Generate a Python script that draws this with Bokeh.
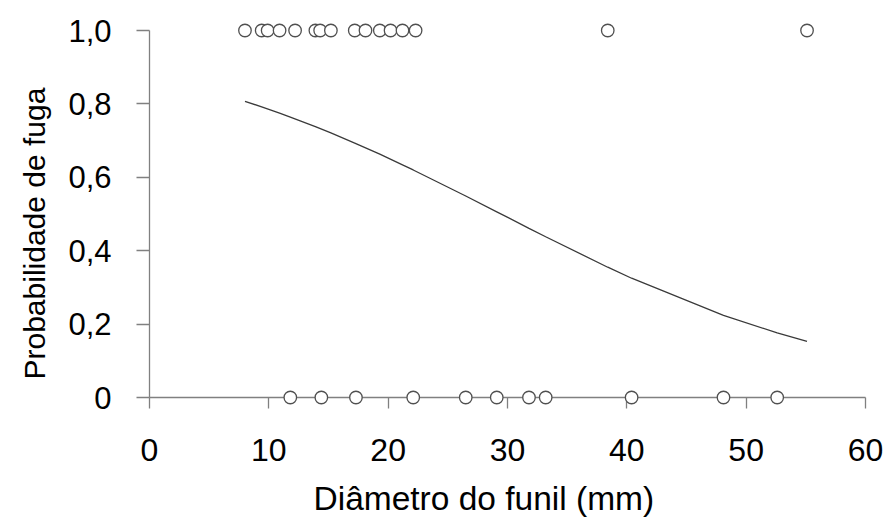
from bokeh.plotting import figure
from bokeh.models import ColumnDataSource, Range1d, FixedTicker, CustomJSTickFormatter, Title
from bokeh.embed import file_html
from bokeh.resources import INLINE

# ---- data ----
escaped_x = [8.0, 9.4, 9.9, 10.9, 12.2, 13.9, 14.3, 15.2, 17.2, 18.1, 19.3, 20.2, 21.2, 22.3, 38.4, 55.1]
escaped_y = [1.0] * len(escaped_x)
stayed_x = [11.8, 14.4, 17.3, 22.1, 26.5, 29.1, 31.8, 33.2, 40.4, 48.1, 52.6]
stayed_y = [0.0] * len(stayed_x)

curve_x = [8.0, 9.4, 10.9, 11.8, 13.9, 15.2, 17.2, 19.3, 21.2, 22.1, 26.5, 29.1, 31.8, 33.2, 38.4, 40.4, 48.1, 52.6, 55.1]
curve_y = [0.807, 0.792, 0.775, 0.764, 0.738, 0.721, 0.693, 0.663, 0.634, 0.620, 0.549, 0.506, 0.461, 0.438, 0.355, 0.325, 0.224, 0.176, 0.153]

x_ticks = [0, 10, 20, 30, 40, 50, 60]
x_tick_labels = ["0", "10", "20", "30", "40", "50", "60"]
y_ticks = [0.0, 0.2, 0.4, 0.6, 0.8, 1.0]
y_tick_labels = ["0", "0,2", "0,4", "0,6", "0,8", "1,0"]

x_title = "Diâmetro do funil (mm)"
y_title = "Probabilidade de fuga"

FONT = "Liberation Sans"
AXIS_COLOR = "#808080"

p = figure(width=884, height=532, output_backend="svg", toolbar_location=None,
           x_range=Range1d(0, 60), y_range=Range1d(0, 1),
           min_border_left=146, min_border_right=19, min_border_top=30, min_border_bottom=135)
p.outline_line_color = None
p.grid.visible = False
p.background_fill_color = "white"
p.border_fill_color = "white"

p.line(curve_x, curve_y, line_color="#3a3a3a", line_width=1.3)

pts = ColumnDataSource(dict(x=escaped_x + stayed_x, y=escaped_y + stayed_y))
p.scatter("x", "y", source=pts, size=12.5, marker="circle", fill_color="white",
          line_color="#505050", line_width=1.3, level="overlay")

def fmt(tick_vals, tick_labels):
    return CustomJSTickFormatter(args=dict(tv=tick_vals, tl=tick_labels), code="""
        let best = 0;
        for (let i = 0; i < tv.length; i++) {
            if (Math.abs(tv[i] - tick) < Math.abs(tv[best] - tick)) best = i;
        }
        return tl[best];
    """)

xa = p.xaxis[0]
xa.ticker = FixedTicker(ticks=x_ticks)
xa.formatter = fmt(x_ticks, x_tick_labels)
xa.major_tick_in = 0
xa.major_tick_out = 11
xa.minor_tick_in = 0
xa.minor_tick_out = 0
xa.major_label_standoff = 30
xa.major_label_text_font_size = "32px"

ya = p.yaxis[0]
ya.ticker = FixedTicker(ticks=y_ticks)
ya.formatter = fmt(y_ticks, y_tick_labels)
ya.major_tick_in = 0
ya.major_tick_out = 13
ya.minor_tick_in = 0
ya.minor_tick_out = 0
ya.major_label_standoff = 25
ya.major_label_text_font_size = "31px"

for ax in (xa, ya):
    ax.axis_line_color = AXIS_COLOR
    ax.axis_line_width = 1.3
    ax.major_tick_line_color = AXIS_COLOR
    ax.major_tick_line_width = 1.3
    ax.major_label_text_font = FONT
    ax.major_label_text_color = "black"

# axis titles as side titles (placed off-centre as in the reference)
p.add_layout(Title(text=x_title, align="left", offset=164, standoff=28,
                   text_font=FONT, text_font_size="33.5px", text_font_style="normal",
                   text_color="black"), "below")
p.add_layout(Title(text=y_title, align="left", offset=18, standoff=30,
                   text_font=FONT, text_font_size="30px", text_font_style="normal",
                   text_color="black"), "left")

open("out.html", "w").write(file_html(p, INLINE))
